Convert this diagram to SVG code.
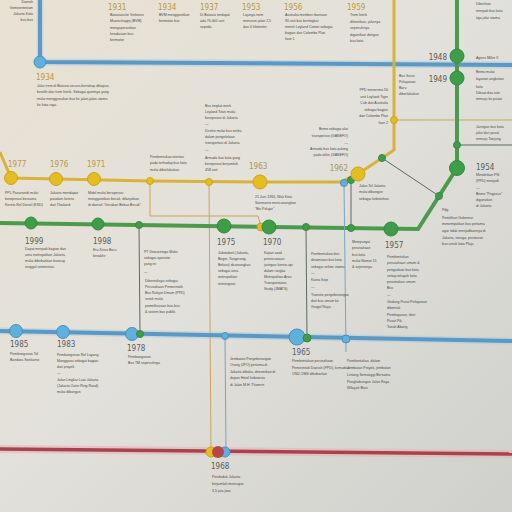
<svg xmlns="http://www.w3.org/2000/svg" width="512" height="512" viewBox="0 0 512 512">
<defs>
<linearGradient id="bg" x1="0" y1="0" x2="1" y2="1">
<stop offset="0" stop-color="#e9e1d2"/>
<stop offset="0.45" stop-color="#e3e1db"/>
<stop offset="1" stop-color="#cfd0cc"/>
</linearGradient>
</defs>
<style>
.yr{font-family:"DejaVu Sans Condensed","DejaVu Sans",sans-serif;font-stretch:condensed;font-size:8px;fill:#b8993f}
.yg{fill:#585d55}
.yb{fill:#56606a}
.ym{fill:#a89660}
.tx{font-family:"Liberation Sans",Arial,sans-serif;font-size:3.5px;fill:#4a4a46}
.r{text-anchor:end}
.bl{stroke:#5b98c3;fill:none;stroke-width:4}
.bglow{stroke:#a8cbe0;fill:none;stroke-width:7;opacity:.5}
.ye{stroke:#d8b23a;fill:none;stroke-width:3}
.gr{stroke:#4c9a4c;fill:none;stroke-width:4}
.rd{stroke:#a8424c;fill:none;stroke-width:3.5}
.rglow{stroke:#e6b4b6;fill:none;stroke-width:8;opacity:.6}
.ty{stroke:#c9a55a;fill:none;stroke-width:1}
.tg{stroke:#5d6b5e;fill:none;stroke-width:1}
.tb{stroke:#7aa4c0;fill:none;stroke-width:1}
.dB{fill:#5fb0dc;stroke:#4a90c0;stroke-width:1}
.dG{fill:#3e9e48;stroke:#358a3e;stroke-width:1}
.dY{fill:#e3bd22;stroke:#cda51c;stroke-width:1}
.dR{fill:#b8454a}
</style>
<rect width="512" height="512" fill="url(#bg)"/>

<g id="connectors">
<path class="bglow" d="M40,0 V62 L512,65"/>
<path class="bl" d="M40,0 V62 L512,65"/>
<path class="ye" d="M0,152 L11,178 L150,181 L260,182 L340,182 L358,174 L394,150 V0"/>
<path class="ty" d="M394,120 H512"/>
<path class="tg" d="M457,145 H512"/>
<path class="ty" d="M150,181 V216 H258 L261,226"/>
<path class="ty" d="M209,182 L211,452"/>
<path class="gr" d="M0,223 L418,229 L457,168 V0"/>
<path class="tg" d="M382,158 L439,196"/>
<path class="tg" d="M139,225 L140,334"/>
<path class="tg" d="M306,227 L307,338"/>
<path class="tg" d="M351,180 V228"/>
<path class="tb" d="M344,183 L346,352"/>
<path class="tb" d="M225,336 L226,452"/>
<path class="bglow" d="M0,331 L512,341"/>
<path class="bl" d="M0,331 L512,341"/>
<path class="rglow" d="M0,449 L512,454"/>
<path class="rd" d="M0,449 L512,454"/>
</g>

<g id="n-top-left">
<text class="tx r" x="33" y="3">Daerah</text>
<text class="tx r" x="33" y="9">Gemeentetram</text>
<text class="tx r" x="33" y="15">Jakarta Kota</text>
<text class="tx r" x="33" y="21">bus-bus</text>
</g>

<g id="n1931">
<text class="yr" x="108" y="10">1931</text>
<text class="tx"><tspan x="110" y="16">Bataviasche Verkeers</tspan><tspan x="110" y="22">Maatschappij (BVM)</tspan><tspan x="110" y="28.5">mengoperasikan</tspan><tspan x="110" y="34.5">kendaraan bus</tspan><tspan x="110" y="40.5">bermotor</tspan></text>
</g>
<g id="n1934a">
<text class="yr" x="158" y="10">1934</text>
<text class="tx"><tspan x="159" y="16">BVM menggantikan</tspan><tspan x="159" y="22">bermotor bus</tspan></text>
</g>
<g id="n1937">
<text class="yr" x="200" y="10">1937</text>
<text class="tx"><tspan x="200" y="16">Di Batavia terdapat</tspan><tspan x="200" y="22">ada 70.000 unit</tspan><tspan x="200" y="28">sepeda</tspan></text>
</g>
<g id="n1953">
<text class="yr" x="242" y="10">1953</text>
<text class="tx"><tspan x="243" y="16">Lajunya trem</tspan><tspan x="243" y="22">menurun jalan 2,5</tspan><tspan x="243" y="28">dari 4 kilometer</tspan></text>
</g>
<g id="n1956">
<text class="yr" x="284" y="10">1956</text>
<text class="tx"><tspan x="285" y="16">Australia memberi bantuan</tspan><tspan x="285" y="22">90 unit bus bertingkat</tspan><tspan x="285" y="28">merek Leyland Comet sebagai</tspan><tspan x="285" y="34">bagian dari Colombo Plan</tspan><tspan x="285" y="40">fase 1</tspan></text>
</g>
<g id="n1959">
<text class="yr" x="347" y="10">1959</text>
<text class="tx"><tspan x="350" y="16">Trem listrik</tspan><tspan x="350" y="22.5">dihentikan, jalurnya</tspan><tspan x="350" y="29">sepenuhnya</tspan><tspan x="350" y="35.5">digantikan dengan</tspan><tspan x="350" y="42">bus kota</tspan></text>
</g>
<g id="n-top-right">
<text class="tx"><tspan x="476" y="5">Diberikan</tspan><tspan x="476" y="12">menjadi bus kota</tspan><tspan x="476" y="19">tiga jalur utama</tspan></text>
</g>

<g id="n1934b">
<circle class="dB" cx="40" cy="62" r="6"/>
<text class="yr" x="36" y="80">1934</text>
<text class="tx"><tspan x="37" y="87">Jalur trem di Batavia secara bertahap dihapus,</tspan><tspan x="37" y="93">beralih dari trem listrik. Sebagai gantinya yang</tspan><tspan x="37" y="99.5">mulai menggunakan bus ke jalan-jalan utama</tspan><tspan x="37" y="105.5">ke kota raya.</tspan></text>
</g>

<g id="n1948">
<circle class="dG" cx="457" cy="56" r="7"/>
<text class="yr yg r" x="447" y="60">1948</text>
<text class="tx" x="476" y="59">Agnes Miller II</text>
</g>
<g id="n1949">
<circle class="dG" cx="457" cy="78" r="7"/>
<text class="yr yg r" x="447" y="82">1949</text>
<text class="tx"><tspan x="476" y="73">Bemo mulai</tspan><tspan x="476" y="80">layanan angkutan</tspan><tspan x="476" y="88">kota</tspan><tspan x="476" y="94">Dibuat dua rute</tspan><tspan x="476" y="100">menuju ke pusat</tspan></text>
</g>
<g id="n-bus-sapit">
<text class="tx"><tspan x="399" y="77">Bus Surat</tspan><tspan x="399" y="82.5">Pelayanan</tspan><tspan x="399" y="88.5">Baru</tspan><tspan x="399" y="94.5">diberlakukan</tspan></text>
</g>
<g id="n-ppd-tiger">
<text class="tx r"><tspan x="388" y="91">PPD menerima 50</tspan><tspan x="388" y="97.5">unit Leyland Tiger</tspan><tspan x="388" y="104">Cub dari Australia</tspan><tspan x="388" y="110.5">sebagai bagian</tspan><tspan x="388" y="117">dari Colombo Plan</tspan><tspan x="388" y="123.5">fase 2</tspan></text>
</g>
<g id="n-titan">
<text class="tx"><tspan x="205" y="107">Bus tingkat merk</tspan><tspan x="205" y="113">Leyland Titan mulai</tspan><tspan x="205" y="119">beroperasi di Jakarta</tspan><tspan x="205" y="125">—</tspan><tspan x="205" y="132">Direksi mulai bus serba</tspan><tspan x="205" y="138">dalam pengelolaan</tspan><tspan x="205" y="144">transportasi di Jakarta</tspan><tspan x="205" y="151">—</tspan><tspan x="205" y="159">Armada bus kota yang</tspan><tspan x="205" y="165">beroperasi berjumlah</tspan><tspan x="205" y="171">458 unit</tspan></text>
</g>
<g id="n-bemo">
<text class="tx r"><tspan x="348" y="130">Bemo sebagai alat</tspan><tspan x="348" y="137">transportasi (GANEFO)</tspan><tspan x="348" y="143.5">—</tspan><tspan x="348" y="150">Armada bus kota pulang</tspan><tspan x="348" y="156">pada akhir (GANEFO)</tspan></text>
</g>
<g id="n-otoritas">
<circle class="dY" cx="150" cy="181" r="3.5"/>
<text class="tx"><tspan x="150" y="158">Pembentukan otoritas</tspan><tspan x="150" y="164">pada terhadap bus kota</tspan><tspan x="150" y="170.5">mulai diberlakukan</tspan></text>
</g>

<g id="n1977">
<circle class="dY" cx="11" cy="178" r="6.5"/>
<text class="yr" x="8" y="167">1977</text>
<text class="tx"><tspan x="5" y="194">PPL Pasarsetdi mulai</tspan><tspan x="5" y="200">beroperasi bersama</tspan><tspan x="5" y="206">Kereta Rel Diesel (KRD)</tspan></text>
</g>
<g id="n1976">
<circle class="dY" cx="56" cy="179" r="6.5"/>
<text class="yr" x="50" y="167">1976</text>
<text class="tx"><tspan x="50" y="194">Jakarta mendapat</tspan><tspan x="50" y="200">pasokan kereta</tspan><tspan x="50" y="206">dari Thailand</tspan></text>
</g>
<g id="n1971">
<circle class="dY" cx="94" cy="179" r="6.5"/>
<text class="yr" x="87" y="167">1971</text>
<text class="tx"><tspan x="88" y="194">Mobil mulai beroperasi</tspan><tspan x="88" y="200">menggantikan becak, dilanjutkan</tspan><tspan x="88" y="206">di daerah "Gerakan Bebas Becak"</tspan></text>
</g>
<g id="n-y209">
<circle class="dY" cx="209" cy="182" r="3.5"/>
</g>
<g id="n1963">
<circle class="dY" cx="260" cy="182" r="7"/>
<text class="yr ym" x="249" y="169">1963</text>
<text class="tx"><tspan x="255" y="198">21 Juni 1963, Wali Kota</tspan><tspan x="255" y="204">Soemarno mencanangkan</tspan><tspan x="255" y="210">"Bis Pelajar"</tspan></text>
</g>
<g id="n1962">
<circle class="dB" cx="344" cy="183" r="3.5"/>
<circle class="dG" cx="351" cy="180" r="3.5"/>
<circle class="dY" cx="358" cy="174" r="7"/>
<text class="yr ym r" x="348" y="171">1962</text>
<text class="tx"><tspan x="359" y="187">Jalan Tol Jakarta</tspan><tspan x="359" y="193">mulai dibangun</tspan><tspan x="359" y="200">sebagai kebutuhan</tspan></text>
</g>
<g id="n-g382">
<circle class="dG" cx="382" cy="158" r="3.5"/>
</g>
<g id="n-y394">
<circle class="dY" cx="394" cy="120" r="3.5"/>
</g>
<g id="n-g457">
<circle class="dG" cx="457" cy="145" r="3.5"/>
<text class="tx"><tspan x="476" y="128">Jaringan bus kota</tspan><tspan x="476" y="134">jalur dari pusat</tspan><tspan x="476" y="140">menuju Tanjung</tspan></text>
</g>
<g id="n1954">
<circle class="dG" cx="457" cy="168" r="7.5"/>
<text class="yr yg" x="476" y="170">1954</text>
<text class="tx"><tspan x="476" y="176">Mendirikan PN</tspan><tspan x="476" y="182">(PPD) menjadi</tspan><tspan x="476" y="188.5">—</tspan><tspan x="476" y="195">Bemo "Pegasus"</tspan><tspan x="476" y="201">digunakan</tspan><tspan x="476" y="207">di Jakarta</tspan></text>
</g>
<g id="n-pdg">
<circle class="dG" cx="439" cy="196" r="3.5"/>
<text class="tx"><tspan x="442" y="211">Pdg</tspan><tspan x="442" y="218.5">Pemilihan Gubernur</tspan><tspan x="442" y="225">menempatkan bus pertama</tspan><tspan x="442" y="232">agar tidak menjadikannya di</tspan><tspan x="442" y="238.5">Jakarta, tenaga, peraturan</tspan><tspan x="442" y="245">bus untuk kota Plaju</tspan></text>
</g>

<g id="n1999">
<circle class="dG" cx="31" cy="223" r="6"/>
<text class="yr yg" x="25" y="244">1999</text>
<text class="tx"><tspan x="25" y="250">Dapat menjadi bagian dari</tspan><tspan x="25" y="256">area metropolitan Jakarta,</tspan><tspan x="25" y="262">mulai dibebaskan busway</tspan><tspan x="25" y="268">tunggal sementara</tspan></text>
</g>
<g id="n1998">
<circle class="dG" cx="98" cy="224" r="6"/>
<text class="yr yg" x="93" y="244">1998</text>
<text class="tx"><tspan x="93" y="251">Era Krisis Baru</tspan><tspan x="93" y="257">berakhir</tspan></text>
</g>
<g id="n-ppd">
<circle class="dG" cx="139" cy="225" r="3.5"/>
<text class="tx"><tspan x="144" y="253">PT Dewaretnga Mulai</tspan><tspan x="144" y="259">sebagai operator</tspan><tspan x="144" y="265">yang ini</tspan><tspan x="144" y="273">—</tspan><tspan x="145" y="282">Dibentuknya sebagai</tspan><tspan x="145" y="288">Perusahaan Pemerintah</tspan><tspan x="145" y="294">Bus Rakyat Umum (PPD)</tspan><tspan x="145" y="300">untuk mulai</tspan><tspan x="145" y="306.5">pemeliharaan bus-bus</tspan><tspan x="145" y="313">&amp; sistem bus publik</tspan></text>
</g>
<g id="n1975">
<circle class="dG" cx="224" cy="226" r="7"/>
<text class="yr yg" x="217" y="245">1975</text>
<text class="tx"><tspan x="218" y="254">Jabotabek (Jakarta,</tspan><tspan x="218" y="260">Bogor, Tangerang,</tspan><tspan x="218" y="266">Bekasi) dicanangkan</tspan><tspan x="218" y="272">sebagai area</tspan><tspan x="218" y="278">metropolitan</tspan><tspan x="218" y="285">terintegrasi</tspan></text>
</g>
<g id="n1970">
<circle class="dY" cx="261" cy="227" r="4"/>
<circle class="dG" cx="269" cy="227" r="7"/>
<text class="yr yg" x="263" y="245">1970</text>
<text class="tx"><tspan x="264" y="254">Kajian awal</tspan><tspan x="264" y="260">perencanaan</tspan><tspan x="264" y="266">jaringan kereta api</tspan><tspan x="264" y="272">dalam rangka</tspan><tspan x="264" y="278">Metropolitan Area</tspan><tspan x="264" y="284">Transportation</tspan><tspan x="264" y="290">Study (JMATS)</tspan></text>
</g>
<g id="n-transito">
<circle class="dG" cx="306" cy="227" r="3.5"/>
<text class="tx"><tspan x="311" y="255">Pembentukan dan</tspan><tspan x="311" y="261">dinamisasi bus kota</tspan><tspan x="311" y="267.5">sebagai sektor utama</tspan><tspan x="311" y="274">—</tspan><tspan x="311" y="281">Kuota Sepi</tspan><tspan x="311" y="288">—</tspan><tspan x="311" y="296">Transito penyeberangan</tspan><tspan x="311" y="302">dari bus umum ke</tspan><tspan x="311" y="308">Grogol Raya</tspan></text>
</g>
<g id="n-mempunyai">
<circle class="dG" cx="351" cy="228" r="3.5"/>
<text class="tx"><tspan x="352" y="243">Mempunyai</tspan><tspan x="352" y="249">perusahaan</tspan><tspan x="352" y="255.5">bus kota</tspan><tspan x="352" y="262">mulai Nomor 51</tspan><tspan x="352" y="268">&amp; sejenisnya</tspan></text>
</g>
<g id="n1957">
<circle class="dG" cx="391" cy="229" r="7"/>
<text class="yr yg" x="385" y="248">1957</text>
<text class="tx"><tspan x="387" y="258">Pembentukan</tspan><tspan x="387" y="264">perusahaan umum &amp;</tspan><tspan x="387" y="270.5">pengadaan bus kota</tspan><tspan x="387" y="276.5">setiap wilayah kota</tspan><tspan x="387" y="282.5">perumahan umum</tspan><tspan x="387" y="289">Bus</tspan><tspan x="387" y="295.5">—</tspan><tspan x="387" y="303">Gedung Pusat Pelayanan</tspan><tspan x="387" y="309">dibentuk</tspan><tspan x="387" y="316">Pembayaran, tiket</tspan><tspan x="387" y="322">Pusat Pik</tspan><tspan x="387" y="328">Tanah Abang</tspan></text>
</g>

<g id="n1985">
<circle class="dB" cx="16" cy="331" r="6.5"/>
<text class="yr yb" x="10" y="347">1985</text>
<text class="tx"><tspan x="10" y="355">Pembangunan Tol</tspan><tspan x="10" y="361">Bandara Soekarno</tspan></text>
</g>
<g id="n1983">
<circle class="dB" cx="63" cy="332" r="6.5"/>
<text class="yr yb" x="57" y="347">1983</text>
<text class="tx"><tspan x="57" y="356">Pembangunan Rel Layang</tspan><tspan x="57" y="362">Manggarai sebagai bagian</tspan><tspan x="57" y="368">dari proyek</tspan><tspan x="57" y="374">—</tspan><tspan x="57" y="381">Jalan Lingkar Luar Jakarta</tspan><tspan x="57" y="387">(Jakarta Outer Ring Road)</tspan><tspan x="57" y="393">mulai dibangun</tspan></text>
</g>
<g id="n1978">
<circle class="dB" cx="132" cy="334" r="6.5"/>
<circle class="dG" cx="140" cy="334" r="3.5"/>
<text class="yr yb" x="127" y="351">1978</text>
<text class="tx"><tspan x="128" y="358">Pembangunan</tspan><tspan x="128" y="364">Bus TM sepenuhnya</tspan></text>
</g>
<g id="n-jpo">
<circle class="dB" cx="225" cy="336" r="3.5"/>
<text class="tx"><tspan x="230" y="360">Jembatan Penyeberangan</tspan><tspan x="230" y="366">Orang (JPO) pertama di</tspan><tspan x="230" y="372.5">Jakarta dibuka, diresmikan di</tspan><tspan x="230" y="379">depan Hotel Indonesia</tspan><tspan x="230" y="385.5">di Jalan M.H. Thamrin</tspan></text>
</g>
<g id="n1965">
<circle class="dB" cx="297" cy="337" r="8"/>
<circle class="dG" cx="307" cy="338" r="4"/>
<text class="yr yb" x="292" y="355">1965</text>
<text class="tx"><tspan x="292" y="362">Pembentukan perusahaan</tspan><tspan x="292" y="368.5">Pemerintah Daerah (PPD), kemudian</tspan><tspan x="292" y="375">1962-1966 dibubarkan</tspan></text>
</g>
<g id="n-semanggi">
<circle class="dB" cx="346" cy="339" r="4"/>
<text class="tx"><tspan x="347" y="362">Pembentukan, dalam</tspan><tspan x="347" y="369">Jembatan Proyek, jembatan</tspan><tspan x="347" y="376">Lintang Semanggi Bersama</tspan><tspan x="347" y="382.5">Penghubungan Jalan Raya</tspan><tspan x="347" y="389">Wilayah Baru</tspan></text>
</g>

<g id="n1968">
<circle class="dY" cx="211" cy="452" r="5"/>
<circle class="dB" cx="225" cy="452" r="5"/>
<circle class="dR" cx="218" cy="452" r="6"/>
<text class="yr yg" x="211" y="469">1968</text>
<text class="tx"><tspan x="212" y="478">Penduduk Jakarta</tspan><tspan x="212" y="485">berjumlah mencapai</tspan><tspan x="212" y="492">3,5 juta jiwa</tspan></text>
</g>
</svg>
